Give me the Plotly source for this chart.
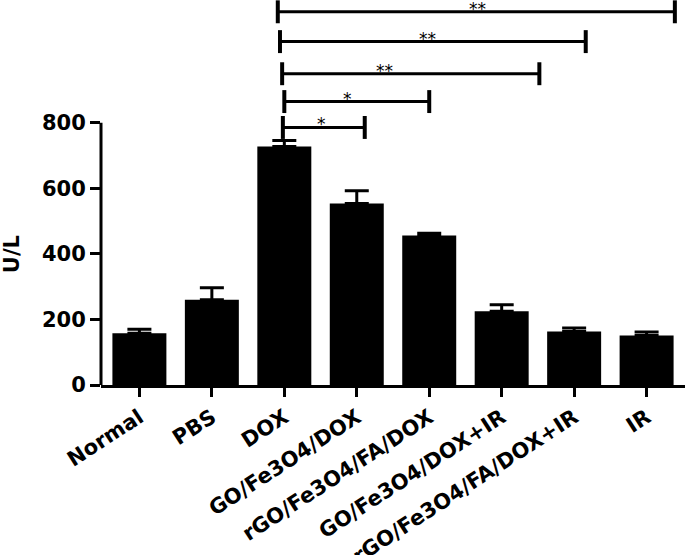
import plotly.graph_objects as go

# Data
groups = ['Normal', 'PBS', 'DOX', 'GO/Fe3O4/DOX', 'rGO/Fe3O4/FA/DOX',
          'GO/Fe3O4/DOX+IR', 'rGO/Fe3O4/FA/DOX+IR', 'IR']
means = [158, 260, 728, 554, 456, 225, 163, 151]
errors = [12, 37, 18, 39, 7, 20, 11, 11]

y_ticks = [0, 200, 400, 600, 800]

# significance brackets (x in category index units, y in U/L)
sig_start = [1.91, 1.94, 1.97, 2.0, 1.98]
sig_end = [7.39, 6.16, 5.52, 4.0, 3.11]
sig_level = [1139, 1048, 950, 865, 786]
sig_label_x = [4.67, 3.97, 3.38, 2.87, 2.52]
sig_label = ['**', '**', '**', '*', '*']

font_bold = dict(family='DejaVu Sans', size=21, color='black', weight='bold')

fig = go.Figure()

fig.add_trace(go.Bar(
    x=groups,
    y=means,
    marker=dict(color='black', line=dict(width=0)),
    error_y=dict(type='data', array=errors, arrayminus=[0] * len(errors),
                 symmetric=False, color='black', thickness=3, width=12),
))

# y axis line only up to 800
fig.add_shape(type='line', xref='paper', yref='y', x0=0, x1=0, y0=0, y1=800,
              line=dict(color='black', width=3))

# significance brackets
tick_half = 35
for x0, x1, lvl, lx, lab in zip(sig_start, sig_end, sig_level, sig_label_x, sig_label):
    fig.add_shape(type='line', xref='x', yref='y', x0=x0, x1=x1, y0=lvl, y1=lvl,
                  line=dict(color='black', width=3))
    for xe in (x0, x1):
        fig.add_shape(type='line', xref='x', yref='y', x0=xe, x1=xe,
                      y0=lvl - tick_half, y1=lvl + tick_half,
                      line=dict(color='black', width=4))
    fig.add_annotation(x=lx, y=lvl, xref='x', yref='y', text=lab, showarrow=False,
                       yanchor='bottom', yshift=-9,
                       font=dict(family='DejaVu Sans', size=17, color='black'))

fig.add_annotation(x=-0.152, y=400, xref='paper', yref='y', text='U/L', showarrow=False,
                   textangle=-90, xanchor='center', font=font_bold)

fig.update_layout(
    width=685, height=555,
    margin=dict(l=101, r=0, t=0, b=170),
    plot_bgcolor='white', paper_bgcolor='white',
    showlegend=False,
    bargap=0.255,
    xaxis=dict(type='category', range=[-0.53, 7.53], showline=True, linewidth=3,
               linecolor='black', ticks='outside', ticklen=9, tickwidth=3,
               tickcolor='black', tickangle=-33, tickfont=font_bold, showgrid=False,
               automargin=False),
    yaxis=dict(range=[0, 1175], tickvals=y_ticks, showline=False, ticks='outside',
               ticklen=10, tickwidth=3, tickcolor='black', tickfont=font_bold,
               showgrid=False, zeroline=False, automargin=False),
)

# the page body has a default 8px margin; drop it so the figure fills the window
fig.write_html("out.html", config={'displayModeBar': False},
               post_script="document.body.style.margin='0';")
